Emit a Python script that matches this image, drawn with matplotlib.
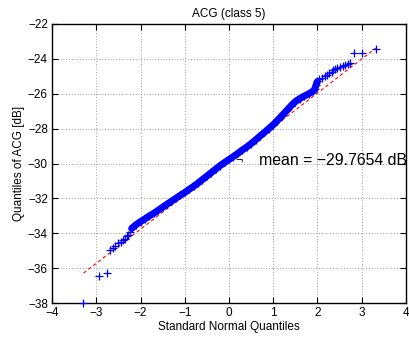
import numpy as np
import matplotlib
matplotlib.use("Agg")
import matplotlib.pyplot as plt

plt.rcParams['font.family'] = ['Liberation Sans', 'DejaVu Sans']

# sparse lower tail (standard normal quantile, sample quantile)
low_x = [-3.29, -2.93, -2.75, -2.69, -2.62, -2.58, -2.50, -2.45, -2.40, -2.35, -2.31, -2.28, -2.24]
low_y = [-37.98, -36.45, -36.26, -34.96, -34.85, -34.72, -34.56, -34.50, -34.40, -34.30, -34.18, -34.08, -33.90]

# dense middle part
mid_x = [-2.2, -2.1, -2.0, -1.9, -1.8, -1.7, -1.6, -1.5, -1.4, -1.3, -1.2, -1.1,
         -1.0, -0.9, -0.8, -0.7, -0.6, -0.5, -0.4, -0.3, -0.2, -0.1, 0.0, 0.1,
         0.2, 0.3, 0.4, 0.5, 0.6, 0.7, 0.8, 0.9, 1.0, 1.1, 1.2, 1.3, 1.4, 1.5,
         1.6, 1.7, 1.8, 1.9, 1.94, 1.97, 2.0]
mid_y = [-33.72, -33.50, -33.33, -33.17, -33.00, -32.85, -32.68, -32.50, -32.33, -32.16, -31.99, -31.82,
         -31.66, -31.48, -31.31, -31.12, -30.92, -30.72, -30.52, -30.32, -30.12, -29.94, -29.77, -29.60,
         -29.42, -29.23, -29.06, -28.86, -28.65, -28.43, -28.22, -28.00, -27.78, -27.52, -27.25, -26.98, -26.70, -26.45,
         -26.28, -26.14, -26.01, -25.86, -25.75, -25.50, -25.30]

# sparse upper tail
up_x = [2.04, 2.10, 2.16, 2.21, 2.27, 2.32, 2.36, 2.40, 2.45, 2.51, 2.57, 2.62, 2.68, 2.73, 2.83, 3.00, 3.32]
up_y = [-25.18, -25.08, -25.00, -24.92, -24.82, -24.73, -24.66, -24.60, -24.55, -24.49, -24.42, -24.35, -24.30, -24.25, -23.68, -23.68, -23.45]

# reference line ends
fit_x = [-3.29, 3.32]
fit_y = [-36.28, -23.39]

mean_val = -29.7654

fig = plt.figure(figsize=(4.10, 3.41), dpi=100)
ax = fig.add_axes([0.127, 0.111, 0.863, 0.819])

ax.plot(fit_x, fit_y, color='red', lw=0.8, dashes=(3, 2.5), zorder=2)
ax.plot(mid_x, mid_y, color='blue', lw=5, solid_capstyle='round', zorder=3)
ax.plot(mid_x, mid_y, '+', color='blue', ms=6, mew=0.9, zorder=3)
ax.plot(low_x, low_y, '+', color='blue', ms=6, mew=0.9, zorder=3, clip_on=False)
ax.plot(up_x, up_y, '+', color='blue', ms=6, mew=0.9, zorder=3, clip_on=False)

ax.text(0.14, -29.9, '¬', fontsize=9, va='center', ha='left')
ax.text(0.68, -29.8, 'mean = \u2212%.4f dB' % abs(mean_val), fontsize=11.4,
        va='center', ha='left', clip_on=False)

ax.set_xlim(-4, 4)
ax.set_ylim(-38, -22)
ax.set_xticks(np.arange(-4, 5, 1))
ax.set_yticks(np.arange(-38, -21, 2))
ax.set_xticklabels(['\u2212%d' % -v if v < 0 else '%d' % v for v in range(-4, 5)])
ax.set_yticklabels(['\u2212%d' % -v for v in range(-38, -21, 2)])
ax.tick_params(direction='in', top=True, right=True, length=4, width=0.8, labelsize=8.5, pad=3)
ax.grid(True, color='black', linestyle=(0, (1, 3)), linewidth=0.5, alpha=0.7)
for s in ax.spines.values():
    s.set_linewidth(1.0)

ax.set_title('ACG (class 5)', fontsize=8.5, pad=5)
ax.set_xlabel('Standard Normal Quantiles', fontsize=8.5, labelpad=1)
ax.set_ylabel('Quantiles of ACG [dB]', fontsize=8.5, labelpad=2)

fig.savefig('out.png', dpi=100)
